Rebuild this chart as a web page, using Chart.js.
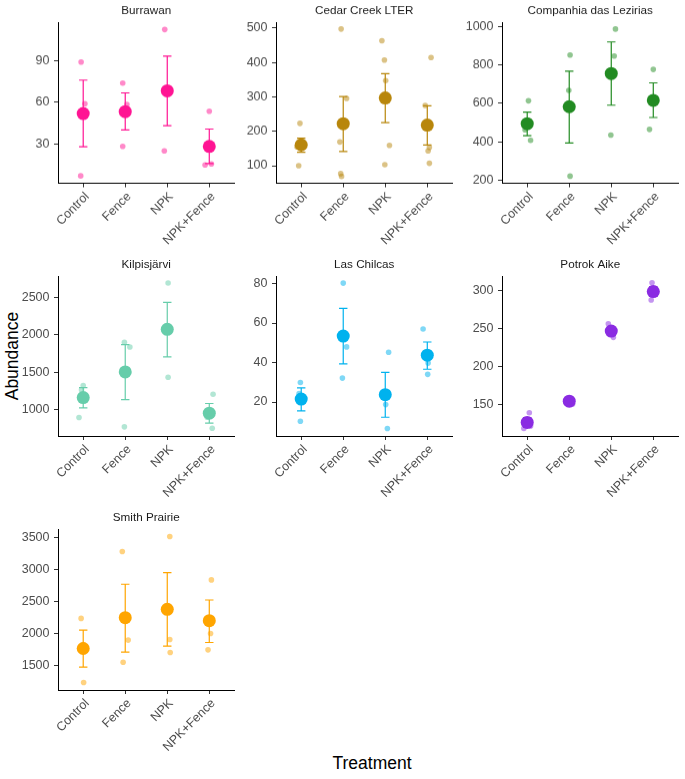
<!DOCTYPE html>
<html>
<head>
<meta charset="utf-8">
<script src="https://cdn.jsdelivr.net/npm/chart.js@4.4.1/dist/chart.umd.min.js"></script>
<style>
  html, body { margin: 0; padding: 0; background: #fff; overflow: hidden; }
  #wrap { position: relative; width: 685px; height: 779px; font-family: 'Liberation Sans', Arial, sans-serif; }
  .panel { position: absolute; }
  .axis-title { position: absolute; font-size: 17.5px; color: #000; white-space: nowrap; }
</style>
</head>
<body>
<div id="wrap">
  <div class="axis-title" id="ylab">Abundance</div>
  <div class="axis-title" id="xlab">Treatment</div>
</div>
<script>
const treatments = ['Control', 'Fence', 'NPK', 'NPK+Fence'];
const sites = ['Burrawan', 'Cedar Creek LTER', 'Companhia das Lezirias', 'Kilpisjärvi', 'Las Chilcas', 'Potrok Aike', 'Smith Prairie'];

// raw plots: [treatment index (1-4), jitter, abundance]
const burrawanObs = [[1,-0.05,88.8],[1,0.04,58.8],[1,-0.06,6.9],[2,-0.06,73.6],[2,0.04,58.2],[2,-0.06,28.1],
  [3,-0.06,112.2],[3,0.0,67.2],[3,-0.07,24.9],[4,0.0,53.4],[4,-0.1,14.8],[4,0.05,15.5]];
const burrawanMean = [51.7, 53.1, 68.1, 28.1];
const burrawanLow = [27.8, 39.9, 43.0, 15.8];
const burrawanHigh = [75.8, 66.6, 93.1, 40.6];
const burrawanTicks = [30, 60, 90];

const cedarObs = [[1,-0.03,223],[1,-0.06,100],[1,-0.1,155],[1,0.02,162],[1,0.05,163],
  [2,-0.05,497],[2,0.08,295.5],[2,-0.08,169],[2,-0.06,77],[2,-0.04,69],
  [3,-0.08,463],[3,-0.02,407],[3,0.01,347],[3,0.1,159],[3,-0.01,103],
  [4,0.09,414],[4,-0.05,275],[4,0.05,153],[4,0.02,143],[4,0.05,107]];
const cedarMean = [160.5, 222, 296.5, 218];
const cedarLow = [139, 141, 225, 160];
const cedarHigh = [180, 301, 367, 274];
const cedarTicks = [100, 200, 300, 400, 500];

const companhiaObs = [[1,0.03,613],[1,0.08,407],[1,-0.05,462],[2,0.02,851],[2,-0.01,667],[2,0.02,221],
  [3,0.1,986],[3,0.07,846],[3,-0.01,435],[4,0.0,776],[4,-0.09,464],[4,0.0,605]];
const companhiaMean = [494, 582, 755, 615];
const companhiaLow = [431, 393, 590, 526];
const companhiaHigh = [554, 767, 919, 706];
const companhiaTicks = [200, 400, 600, 800, 1000];

const kilpisObs = [[1,0.0,1318],[1,-0.04,1260],[1,-0.1,889],[2,-0.02,1900],[2,0.11,1838],[2,-0.02,763],
  [3,0.02,2697],[3,0.02,1430],[3,0.0,2098],[4,0.09,1202],[4,0.07,745],[4,-0.05,893]];
const kilpisMean = [1157, 1502, 2075, 947];
const kilpisLow = [1018, 1130, 1703, 813];
const kilpisHigh = [1291, 1869, 2437, 1077];
const kilpisTicks = [1000, 1500, 2000, 2500];

const chilcasObs = [[1,-0.02,29.9],[1,-0.05,24.3],[1,-0.02,10.3],[2,0.0,80.2],[2,0.08,47.9],[2,-0.02,32.1],
  [3,0.08,45.2],[3,0.01,18.7],[3,0.05,6.6],[4,-0.1,57.0],[4,0.02,39.7],[4,0.01,34.0]];
const chilcasMean = [21.5, 53.4, 23.7, 43.7];
const chilcasLow = [15.5, 39.3, 12.3, 36.6];
const chilcasHigh = [27.2, 67.4, 35.0, 50.4];
const chilcasTicks = [20, 40, 60, 80];

const potrokObs = [[1,0.05,139.5],[1,-0.08,119],[1,0.08,122],[2,0.08,151],[2,-0.05,155],[2,0.02,158],
  [3,-0.07,256.7],[3,0.05,238.8],[3,0.0,245.5],[4,-0.03,310.5],[4,-0.05,288],[4,0.08,298.5]];
const potrokMean = [126.8, 154.8, 247, 299];
const potrokLow = [120.4, 152.5, 241.8, 292.5];
const potrokHigh = [133.2, 157.1, 252.2, 305.5];
const potrokTicks = [150, 200, 250, 300];

const smithObs = [[1,-0.05,2236],[1,0.01,1234],[1,0.0,1828],[2,-0.07,3281],[2,0.07,1897],[2,-0.05,1552],
  [3,0.06,3516],[3,0.06,1907],[3,0.07,1704],[4,0.05,2837],[4,0.03,2001],[4,-0.03,1745]];
const smithMean = [1766, 2247, 2377, 2200];
const smithLow = [1474, 1709, 1803, 1860];
const smithHigh = [2053, 2769, 2952, 2523];
const smithTicks = [1500, 2000, 2500, 3000, 3500];

// y limits per panel
const yLimits = [[1.6, 117.5], [49, 517], [184, 1022], [640, 2792], [2.8, 83.8], [109, 319.5], [1118, 3632]];

const colors = ['#FF1493', '#B8860B', '#228B22', '#66CDAA', '#00B2EE', '#8A2BE2', '#FFA500'];

// panel grid placement
const colLeft = [58, 276, 502];
const colRight = [241, 459, 685];
const rowTop = [22, 276, 529];
const rowBottom = [182.5, 436, 690];

const panelData = [
  [burrawanObs, burrawanMean, burrawanLow, burrawanHigh, burrawanTicks],
  [cedarObs, cedarMean, cedarLow, cedarHigh, cedarTicks],
  [companhiaObs, companhiaMean, companhiaLow, companhiaHigh, companhiaTicks],
  [kilpisObs, kilpisMean, kilpisLow, kilpisHigh, kilpisTicks],
  [chilcasObs, chilcasMean, chilcasLow, chilcasHigh, chilcasTicks],
  [potrokObs, potrokMean, potrokLow, potrokHigh, potrokTicks],
  [smithObs, smithMean, smithLow, smithHigh, smithTicks]
];

const FONT = "'Liberation Sans', Arial, sans-serif";
const Y_W = 50, TITLE_H = 22, X_H = 64;

function withAlpha(hex, a) {
  const n = parseInt(hex.slice(1), 16);
  return `rgba(${(n >> 16) & 255}, ${(n >> 8) & 255}, ${n & 255}, ${a})`;
}

function errorBarPoints(low, high) {
  const pts = [];
  low.forEach((lo, i) => {
    const x = i + 1, hi = high[i];
    pts.push({x: x - 0.1, y: hi}, {x: x + 0.1, y: hi}, {x: x, y: null});
    pts.push({x: x, y: hi}, {x: x, y: lo}, {x: x, y: null});
    pts.push({x: x - 0.1, y: lo}, {x: x + 0.1, y: lo}, {x: x, y: null});
  });
  return pts;
}

const wrap = document.getElementById('wrap');

panelData.forEach(([obs, mean, low, high, ticks], k) => {
  const col = k % 3, row = Math.floor(k / 3);
  const L = colLeft[col], R = colRight[col], T = rowTop[row], B = rowBottom[row];
  const div = document.createElement('div');
  div.className = 'panel';
  const w = R - L + Y_W, h = B - T + TITLE_H + X_H;
  div.style.left = (L - Y_W) + 'px';
  div.style.top = (T - TITLE_H) + 'px';
  div.style.width = w + 'px';
  div.style.height = h + 'px';
  const canvas = document.createElement('canvas');
  div.appendChild(canvas);
  wrap.appendChild(div);

  const color = colors[k];
  new Chart(canvas, {
    type: 'scatter',
    data: {
      datasets: [
        {
          label: 'mean',
          data: mean.map((v, i) => ({x: i + 1, y: v})),
          backgroundColor: color,
          borderWidth: 0,
          pointRadius: 6.5,
          clip: false
        },
        {
          type: 'line',
          label: 'se',
          data: errorBarPoints(low, high),
          borderColor: color,
          borderWidth: 1.2,
          pointRadius: 0,
          spanGaps: false,
          fill: false,
          clip: false
        },
        {
          label: 'plots',
          data: obs.map(([g, j, v]) => ({x: g + j, y: v})),
          backgroundColor: withAlpha(color, 0.5),
          borderWidth: 0,
          pointRadius: 2.8,
          clip: false
        }
      ]
    },
    options: {
      responsive: true,
      maintainAspectRatio: false,
      animation: false,
      events: [],
      layout: { padding: 0 },
      plugins: {
        legend: { display: false },
        tooltip: { enabled: false },
        title: {
          display: true,
          text: sites[k],
          fullSize: false,
          color: '#1a1a1a',
          font: { family: FONT, size: 11.7, weight: 'normal', lineHeight: '14px' },
          padding: { top: 4, bottom: 4 }
        }
      },
      scales: {
        x: {
          type: 'linear',
          min: 0.4,
          max: 4.6,
          afterBuildTicks: s => { s.ticks = treatments.map((t, i) => ({value: i + 1})); },
          afterFit: s => { s.height = X_H; s.paddingLeft = 0; s.paddingRight = 0; },
          ticks: {
            minRotation: 45,
            maxRotation: 45,
            autoSkip: false,
            padding: 2,
            labelOffset: 4,
            color: '#4d4d4d',
            font: { family: FONT, size: 12.5 },
            callback: v => treatments[Math.round(v) - 1]
          },
          grid: { display: true, drawOnChartArea: false, drawTicks: true, tickLength: 4, tickColor: '#333', tickWidth: 1 },
          border: { display: true, color: '#000', width: 1 }
        },
        y: {
          type: 'linear',
          min: yLimits[k][0],
          max: yLimits[k][1],
          afterBuildTicks: s => { s.ticks = ticks.map(v => ({value: v})); },
          afterFit: s => { s.width = Y_W; s.paddingTop = 0; s.paddingBottom = 0; },
          ticks: {
            padding: 4.5,
            color: '#4d4d4d',
            font: { family: FONT, size: 12.5 },
            callback: v => String(v)
          },
          grid: { display: true, drawOnChartArea: false, drawTicks: true, tickLength: 4, tickColor: '#333', tickWidth: 1 },
          border: { display: true, color: '#000', width: 1 }
        }
      }
    }
  });
});

const ylab = document.getElementById('ylab');
ylab.style.left = '12px';
ylab.style.top = '356px';
ylab.style.transform = 'translate(-50%, -50%) rotate(-90deg)';
const xlab = document.getElementById('xlab');
xlab.style.left = '372px';
xlab.style.top = '763px';
xlab.style.transform = 'translate(-50%, -50%)';
</script>
</body>
</html>
